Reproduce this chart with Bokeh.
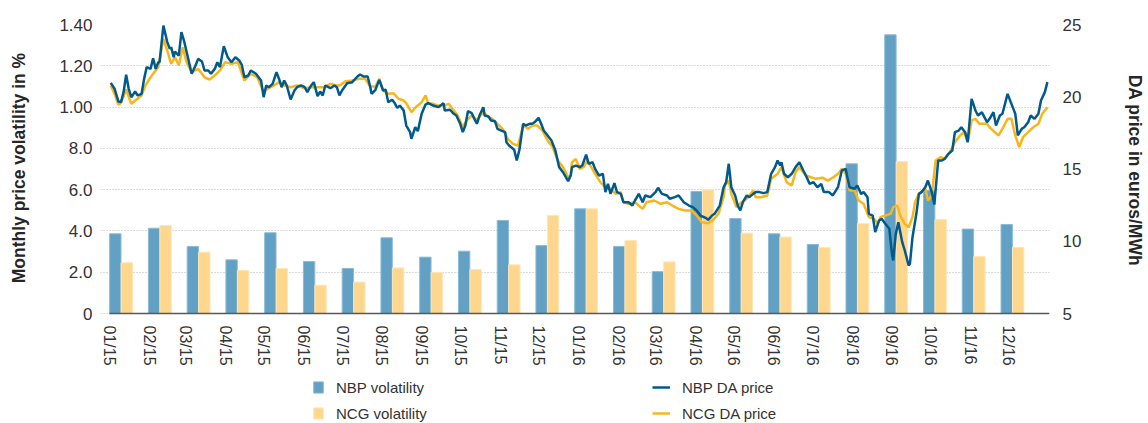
from bokeh.plotting import figure
from bokeh.models import Range1d, LinearAxis, FixedTicker, Legend, LegendItem, ColumnDataSource
from bokeh.transform import dodge
from bokeh.embed import file_html
from bokeh.resources import INLINE
import pandas as pd

# ---------------- data ----------------
months = ["01/15", "02/15", "03/15", "04/15", "05/15", "06/15", "07/15", "08/15",
          "09/15", "10/15", "11/15", "12/15", "01/16", "02/16", "03/16", "04/16",
          "05/16", "06/16", "07/16", "08/16", "09/16", "10/16", "11/16", "12/16"]
nbp_vol = [3.86, 4.13, 3.25, 2.60, 3.91, 2.52, 2.18, 3.67, 2.73, 3.02, 4.51, 3.29,
           5.07, 3.25, 2.03, 5.91, 4.60, 3.86, 3.34, 7.25, 13.50, 5.95, 4.09, 4.31]
ncg_vol = [2.46, 4.26, 2.97, 2.08, 2.18, 1.37, 1.52, 2.21, 1.99, 2.13, 2.36, 4.75,
           5.07, 3.54, 2.50, 5.99, 3.89, 3.70, 3.20, 4.36, 7.36, 4.55, 2.76, 3.20]
vol_ticks = [0, 2, 4, 6, 8, 10, 12, 14]
vol_tick_labels = ["0", "2.0", "4.0", "6.0", "8.0", "1.00", "1.20", "1.40"]
price_ticks = [5, 10, 15, 20, 25]
vol_title = "Monthly price volatility in %"
price_title = "DA price in euros/MWh"

# daily prices: day offset from 01/01/2015, price in EUR/MWh
nbp_day = [1, 4, 7, 9, 11, 13, 15, 17, 20, 22, 25, 27, 29, 32, 34, 36, 38, 39, 42, 45,
           47, 48, 50, 51, 54, 56, 58, 61, 64, 67, 69, 72, 74, 77, 79, 82, 84, 86, 89, 92,
           95, 98, 101, 103, 105, 108, 110, 114, 118, 120, 122, 124, 127, 130, 132, 134, 136, 138, 141, 144,
           146, 149, 152, 154, 157, 159, 162, 164, 166, 168, 172, 175, 177,
           179, 181, 185, 189, 193, 195, 198, 201, 203, 204, 207, 210, 213, 215, 217, 220, 222, 224, 226, 229,
           231, 234, 235, 238, 240, 243, 246, 248, 252, 256, 260, 261, 265, 268, 270, 273, 275, 277, 279, 282,
           284, 286, 288, 291, 292, 295, 297, 300, 302, 305, 308, 309, 311, 315, 317, 319, 322, 324, 327, 329,
           331, 334, 336, 338, 341, 344, 347, 350, 353, 357, 359,
           360, 363, 366, 368, 371, 373, 376, 378, 381, 384, 386, 388, 390, 393, 395, 398, 400, 404, 407, 409,
           412, 415, 417, 421, 425, 427, 430, 434, 436, 440, 443, 447, 451, 454, 457, 460, 464, 466, 469, 471,
           475, 478, 480, 482, 484, 487, 489, 491, 493, 496, 498, 501, 503, 506, 509, 512, 515, 518, 520, 522,
           523, 525, 528, 531, 534, 537, 540,
           542, 545, 548, 551, 554, 556, 560, 563, 567, 570, 573, 574, 576, 580, 582, 585, 587, 590, 591, 594,
           596, 599, 601, 604, 607, 609, 610, 612, 614, 617, 619, 622, 623, 625, 628, 630, 632, 635, 637, 640,
           642, 645, 648, 650, 653, 656, 658, 661, 663, 666, 668, 671, 674, 676, 679, 683, 685, 688, 690, 693,
           695, 699, 702, 705, 707, 710, 712, 715, 717, 720, 723, 725, 728, 730]
nbp_price = [20.96, 20.55, 19.67, 19.63, 20.32, 21.52, 20.55, 19.97, 20.36, 20.09, 20.2, 21.24, 22.05, 21.93, 22.67, 21.93, 22.39, 22.39, 24.93, 23.78,
             23.32, 23.43, 22.74, 23.13, 22.85, 24.47, 23.89, 22.74, 21.59, 22.16, 22.62, 22.44, 21.82, 21.82, 21.59, 21.93, 22.39, 22.05, 23.5, 22.74,
             22.39, 22.74, 22.51, 22.21, 21.35, 21.47, 21.82, 21.59, 21.12, 19.97, 20.78, 20.66, 20.89, 21.7, 21.24, 20.66, 21.12, 20.78, 19.81, 20.43,
             20.66, 20.78, 20.66, 20.32, 20.78, 21.01, 20.04, 20.36, 20.09, 20.78, 20.59, 20.78, 20.66,
             20.09, 20.43, 20.94, 21.01, 21.4, 21.54, 21.4, 21.4, 20.66, 20.2, 20.48, 21.17, 20.43, 20.48, 19.62, 19.79, 19.56, 19.23, 19.39, 19.05,
             18.01, 17.55, 17.09, 17.89, 17.62, 18.82, 19.46, 19.56, 19.39, 19.28, 19.56, 19.05, 19.1, 18.82, 18.7, 18.13, 17.55, 18.01, 19.0, 18.86,
             18.47, 18.13, 18.7, 19.28, 18.7, 18.63, 18.36, 18.31, 17.78, 17.66, 17.55, 16.85, 16.63, 16.33, 15.59, 16.3, 18.13, 18.01, 18.13, 18.13,
             18.24, 18.54, 18.13, 17.66, 17.32, 16.97, 16.3, 15.13, 14.78, 14.16, 14.55,
             15.13, 15.24, 15.13, 15.24, 16.0, 15.36, 15.47, 15.01, 14.55, 14.67, 13.4, 13.97, 13.28, 14.02, 13.4, 13.28, 12.7, 12.7, 12.47, 12.82,
             13.28, 12.7, 13.17, 13.05, 13.4, 13.7, 13.28, 13.17, 12.94, 13.05, 13.17, 12.7, 12.47, 12.36, 12.13, 11.78, 11.62, 11.48, 11.78, 11.9,
             12.47, 13.74, 14.09, 15.36, 13.74, 13.17, 12.47, 12.13, 12.7, 13.17, 13.05, 13.28, 13.4, 13.4, 13.33, 13.4, 14.67, 15.13, 15.59, 15.24,
             15.47, 14.67, 14.43, 14.67, 15.13, 15.47, 14.9,
             14.55, 13.97, 14.09, 13.74, 13.97, 13.4, 13.4, 13.17, 13.74, 14.9, 15.01, 14.55, 13.74, 13.63, 13.86, 13.28, 13.4, 13.05, 11.9, 11.78,
             10.63, 11.44, 11.55, 11.2, 10.86, 9.13, 8.67, 10.51, 11.32, 9.94, 9.36, 8.32, 8.44, 10.28, 11.9, 13.28, 13.4, 13.74, 14.2, 13.4,
             12.54, 15.59, 15.59, 15.7, 16.05, 16.28, 17.55, 17.66, 17.89, 17.55, 16.86, 19.86, 19.05, 18.7, 18.93, 18.24, 18.47, 18.93, 18.01, 18.7,
             18.82, 20.2, 19.51, 18.82, 17.32, 17.78, 17.89, 18.24, 18.7, 18.47, 18.82, 19.74, 20.32, 21.01]

ncg_day = [1, 4, 7, 9, 13, 17, 20, 25, 28, 32, 34, 38, 42, 45, 48, 51, 54, 57, 60, 64,
           69, 74, 78, 82, 86, 90, 95, 100, 105, 110, 115, 120, 123, 128, 132, 136, 141, 146, 152, 157,
           162, 167, 172, 177,
           179, 184, 189, 194, 199, 203, 207, 210, 213, 217, 221, 225, 229, 231, 235, 239, 243, 246, 248, 252,
           256, 260, 264, 268, 271, 275, 278, 282, 286, 291, 295, 298, 302, 306, 310, 314, 318, 322, 326, 329,
           333, 337, 341, 345, 349, 353, 357, 359,
           360, 363, 366, 369, 372, 375, 378, 382, 386, 390, 394, 398, 400, 404, 409, 415, 418, 424, 429, 434,
           438, 443, 448, 453, 457, 461, 466, 470, 474, 478, 479, 482, 484, 488, 492, 496, 501, 503, 507, 512,
           515, 520, 523, 527, 531, 534, 537, 541,
           542, 546, 550, 555, 559, 563, 567, 570, 573, 576, 580, 583, 587, 591, 595, 598, 600, 604, 608, 610,
           613, 616, 619, 622, 625, 627, 630, 632, 635, 637, 640, 643, 647, 650, 654, 658, 662, 665, 668, 671,
           674, 677, 683, 685, 689, 692, 695, 699, 702, 705, 708, 711, 715, 719, 723, 726, 730]
ncg_price = [20.78, 20.2, 19.44, 19.58, 20.5, 19.51, 19.74, 20.09, 20.78, 21.35, 21.59, 22.05, 24.01, 23.2, 22.28, 22.74, 22.16, 23.43, 22.39, 21.7,
             21.93, 21.35, 21.19, 21.47, 21.82, 22.39, 22.28, 22.39, 21.12, 21.59, 21.35, 20.32, 20.55, 20.78, 21.01, 20.78, 20.66, 20.78, 20.59, 20.66,
             20.66, 20.66, 20.89, 20.78,
             20.78, 21.08, 21.12, 21.24, 21.24, 20.71, 20.71, 21.24, 20.43, 20.2, 20.25, 19.86, 19.74, 19.56, 18.93, 19.33, 19.62, 20.09, 19.56, 19.51,
             19.39, 19.39, 19.51, 19.05, 18.7, 17.89, 18.36, 18.7, 18.4, 18.93, 18.59, 18.47, 18.13, 17.78, 17.09, 16.74, 16.63, 18.01, 17.78, 18.01,
             18.01, 17.66, 16.97, 16.51, 15.59, 15.13, 14.43, 14.55,
             15.47, 15.7, 15.01, 15.13, 15.59, 15.13, 14.67, 14.09, 13.74, 13.63, 13.28, 13.4, 12.7, 12.59, 12.7, 12.24, 12.7, 12.82, 12.59, 12.7,
             12.47, 12.24, 12.13, 12.13, 11.78, 11.32, 11.25, 11.48, 11.9, 13.05, 13.86, 14.2, 13.28, 12.36, 12.7, 12.94, 13.51, 13.05, 13.05, 13.17,
             14.32, 14.67, 15.13, 14.09, 13.86, 14.78, 15.13, 14.67,
             14.55, 14.43, 14.32, 14.4, 14.2, 14.4, 14.67, 15.01, 14.67, 13.51, 13.51, 12.82, 12.59, 11.67, 11.55, 11.2, 11.67, 11.78, 11.9, 12.36,
             12.47, 11.67, 11.2, 10.97, 11.67, 12.7, 13.28, 13.4, 13.63, 12.82, 13.17, 15.59, 15.82, 15.7, 16.16, 16.86, 17.32, 17.55, 16.86, 18.36,
             18.47, 18.13, 18.13, 17.89, 17.55, 17.32, 17.78, 18.47, 18.47, 17.32, 16.51, 17.2, 17.55, 17.89, 18.13, 18.82, 19.28]

# ---------------- layout & style ----------------
FONT = "Liberation Sans"
NBP_BAR = "#62A0C4"
NCG_BAR = "#FDD78E"
NBP_LINE = "#005A8C"
NCG_LINE = "#F9B61A"
TXT = "#333333"
NBSP = "\u00a0"

W, H = 1148, 423
FRAME_L, FRAME_R, FRAME_T = 100, 1055, 24    # frame box in pixels
PLOT_L = 109                                  # pixel column of the first day / first bar
AXIS_Y = 313                                  # pixel row of the 0 / 5 baseline
vol_px = (AXIS_Y - FRAME_T) / (vol_ticks[-1] - vol_ticks[0])
price_px = (AXIS_Y - FRAME_T) / (price_ticks[-1] - price_ticks[0])
vol_start = vol_ticks[0] - (H - AXIS_Y) / vol_px
price_start = price_ticks[0] - (H - AXIS_Y) / price_px
month_px = 39.0
day_px = 1.293

start = pd.Timestamp("2015-01-01")
month_start_days = [int((d - start).days) for d in pd.date_range(start, periods=len(months), freq="MS")]

p = figure(width=W, height=H, output_backend="svg", toolbar_location=None,
           x_range=Range1d(-(PLOT_L - FRAME_L) / month_px, (FRAME_R - PLOT_L) / month_px),
           y_range=Range1d(vol_start, vol_ticks[-1]),
           x_axis_location=None, y_axis_location="left",
           min_border_left=FRAME_L, min_border_right=W - FRAME_R,
           min_border_top=FRAME_T, min_border_bottom=0)
p.extra_x_ranges = {"days": Range1d(-(PLOT_L - FRAME_L) / day_px, (FRAME_R - PLOT_L) / day_px)}
p.extra_y_ranges = {"price": Range1d(price_start, price_ticks[-1])}
p.outline_line_color = None
p.background_fill_color = "white"
p.border_fill_color = "white"

# the axis titles are centred on the whole frame; non-breaking spaces shift them
# up to the middle of the 0-14 / 5-25 band like in the original
shift_px = (H - AXIS_Y)
vol_label = NBSP * 23 + vol_title
price_label = price_title + NBSP * 22

# left axis
ya = p.yaxis[0]
ya.ticker = FixedTicker(ticks=vol_ticks)
ya.major_label_overrides = {t: l for t, l in zip(vol_ticks, vol_tick_labels)}
ya.axis_label = vol_label
ya.axis_line_color = None
ya.major_tick_line_color = None
ya.minor_tick_line_color = None
ya.major_label_text_font = FONT
ya.major_label_text_font_size = "17px"
ya.major_label_text_color = TXT
ya.major_label_standoff = 2
ya.axis_label_text_font = FONT
ya.axis_label_text_font_size = "17.5px"
ya.axis_label_text_font_style = "bold"
ya.axis_label_text_color = "#262626"
ya.axis_label_standoff = 27

p.xgrid.visible = False
p.ygrid.grid_line_color = "#B4B4B4"
p.ygrid.grid_line_dash = "1 2"
p.ygrid.grid_line_width = 1

# right axis
ra = LinearAxis(y_range_name="price", ticker=FixedTicker(ticks=price_ticks),
                axis_label=price_label)
ra.axis_line_color = None
ra.major_tick_line_color = None
ra.minor_tick_line_color = None
ra.major_label_text_font = FONT
ra.major_label_text_font_size = "17px"
ra.major_label_text_color = TXT
ra.major_label_standoff = 7
ra.axis_label_text_font = FONT
ra.axis_label_text_font_size = "17.5px"
ra.axis_label_text_font_style = "bold"
ra.axis_label_text_color = "#262626"
ra.axis_label_standoff = 41
p.add_layout(ra, "right")

# bottom axis (dates), drawn at the zero line
days_end = (FRAME_R - PLOT_L) / day_px
ba = LinearAxis(x_range_name="days", ticker=FixedTicker(ticks=month_start_days),
                fixed_location=vol_ticks[0], bounds=(0, days_end))
ba.major_label_overrides = {d: m for d, m in zip(month_start_days, months)}
ba.major_label_orientation = "vertical"
ba.axis_line_color = "#595959"
ba.axis_line_width = 1.5
ba.major_tick_line_color = None
ba.minor_tick_line_color = None
ba.major_label_text_font = FONT
ba.major_label_text_font_size = "16px"
ba.major_label_text_color = TXT
ba.major_label_standoff = 6
p.add_layout(ba, "below")

# bars
src = ColumnDataSource(dict(m=list(range(len(months))), nbp=nbp_vol, ncg=ncg_vol))
r_nbp = p.vbar(x=dodge("m", 0.152), top="nbp", bottom=0, width=0.293, source=src,
               fill_color=NBP_BAR, line_color="#8DBBD6", line_width=1)
r_ncg = p.vbar(x=dodge("m", 0.448), top="ncg", bottom=0, width=0.293, source=src,
               fill_color=NCG_BAR, line_color="#FEE6B8", line_width=1)

# lines
r_ncgl = p.line(ncg_day, ncg_price, x_range_name="days", y_range_name="price",
                line_color=NCG_LINE, line_width=2.5)
r_nbpl = p.line(nbp_day, nbp_price, x_range_name="days", y_range_name="price",
                line_color=NBP_LINE, line_width=2.5)

def make_legend(items, loc, gw):
    lg = Legend(items=items, location=loc, orientation="vertical")
    lg.border_line_color = None
    lg.background_fill_alpha = 0
    lg.label_text_font = FONT
    lg.label_text_font_size = "15px"
    lg.label_text_color = TXT
    lg.label_height = 20
    lg.glyph_width = gw
    lg.glyph_height = 14
    lg.spacing = 6
    lg.padding = 0
    lg.margin = 0
    lg.label_standoff = 12
    return lg

leg1 = make_legend([LegendItem(label="NBP volatility", renderers=[r_nbp]),
                    LegendItem(label="NCG volatility", renderers=[r_ncg])], (312 - FRAME_L, 0), 12)
leg2 = make_legend([LegendItem(label="NBP DA price", renderers=[r_nbpl]),
                    LegendItem(label="NCG DA price", renderers=[r_ncgl])], (652 - FRAME_L, 0), 18)
p.add_layout(leg1, "center")
p.add_layout(leg2, "center")

open("out.html", "w").write(file_html(p, INLINE))
